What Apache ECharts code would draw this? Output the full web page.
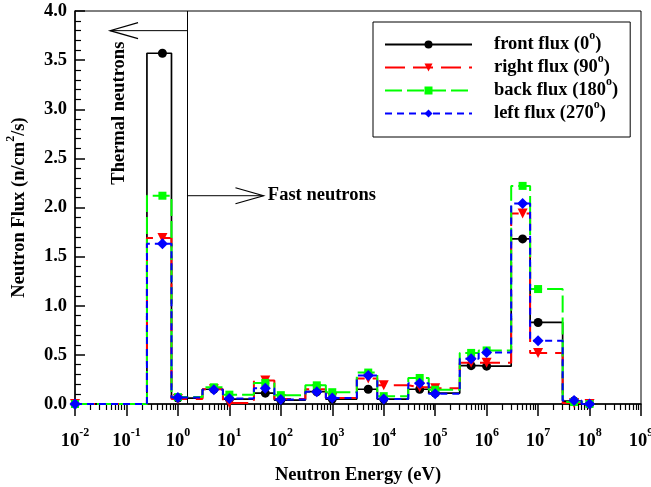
<!DOCTYPE html>
<html>
<head>
<meta charset="utf-8">
<script src="https://cdn.jsdelivr.net/npm/echarts@6/dist/echarts.min.js"></script>
<style>
html,body{margin:0;padding:0;background:#fff;}
#chart{width:651px;height:487px;}
</style>
</head>
<body>
<div id="chart"></div>
<script>
"use strict";

// group boundaries (eV) and the energy where each marker sits
var binEdges=[0.01,0.25,0.75,3,7.5,30,75,300,750,3e3,7.5e3,3e4,7.5e4,3e5,7e5,3e6,7e6,3e7,7e7,1.1e8];
var markerEnergy=[0.01,0.5,1,5,10,50,100,500,1e3,5e3,1e4,5e4,1e5,5e5,1e6,5e6,1e7,5e7,1e8];

var frontFlux=[0,3.57,0.06,0.15,0.05,0.11,0.04,0.125,0.05,0.15,0.05,0.15,0.11,0.39,0.385,1.68,0.83,0.03,0];
var rightFlux=[0,1.69,0.05,0.15,0.01,0.24,0.05,0.15,0.06,0.26,0.19,0.17,0.16,0.42,0.42,1.94,0.52,0.01,0];
var backFlux=[0,2.12,0.07,0.17,0.095,0.215,0.09,0.19,0.12,0.32,0.08,0.265,0.145,0.52,0.545,2.22,1.17,0.02,0];
var leftFlux=[0,1.63,0.065,0.145,0.055,0.16,0.045,0.125,0.06,0.29,0.05,0.21,0.105,0.46,0.525,2.04,0.645,0.035,0];

var seriesLabels=['front flux (0','right flux (90','back flux (180','left flux (270'];
var seriesColors=['#000000','#ff0000','#00ff00','#0000ff'];

var xMin=0.01, xMax=1e9;

// annotation anchors (data coords)
var dividerE=1.5;
var thermalArrow={y:3.8,tip:0.048};
var fastArrow={y:2.12,tip:46};

var FONT='"Liberation Serif","Times New Roman",serif';
var FS=18.5;

var majorTicks=[];
var minorTicks=[];
for(var n=-2;n<=9;n++){
  majorTicks.push(Math.pow(10,n));
  if(n<9) for(var k=2;k<=9;k++) minorTicks.push(k*Math.pow(10,n));
}

function steps(values){
  var pts=[];
  for(var i=0;i<values.length;i++){
    pts.push({value:[binEdges[i],values[i]],symbol:'none'});
    pts.push([markerEnergy[i],values[i]]);
    pts.push({value:[binEdges[i+1],values[i]],symbol:'none'});
  }
  return pts;
}

var txt={fontFamily:FONT,fontWeight:'bold',fontSize:FS,color:'#000'};
var supRich={
  t:{fontFamily:FONT,fontWeight:'bold',fontSize:FS,color:'#000',lineHeight:23},
  s:{fontFamily:FONT,fontWeight:'bold',fontSize:12,color:'#000',verticalAlign:'top',lineHeight:6,height:6},
  g:{width:17}
};

function mkSeries(idx,values,symbol,size,dash,width){
  return {
    name:seriesLabels[idx],
    type:'line',
    data:steps(values),
    symbol:symbol,
    symbolSize:size,
    showSymbol:true,
    animation:false,
    color:seriesColors[idx],
    itemStyle:{color:seriesColors[idx]},
    lineStyle:{color:seriesColors[idx],width:width,type:dash},
    z:2+idx
  };
}

var series=[
  mkSeries(0,frontFlux,'circle',9,'solid',1.7),
  mkSeries(1,rightFlux,'path://M0,0 L10,0 L5,9 Z',10,[20,8],2),
  mkSeries(2,backFlux,'rect',8,[17,5],2),
  mkSeries(3,leftFlux,'diamond',11,[7,5],2)
];
series[0].markLine={
  silent:true,symbol:'none',label:{show:false},animation:false,
  lineStyle:{color:'#000',width:1,type:'solid'},
  data:[{xAxis:dividerE}]
};

var option={
  backgroundColor:'#fff',
  animation:false,
  grid:{left:75,right:10,top:11,bottom:83,show:true,borderColor:'#000',borderWidth:1,
    containLabel:false,outerBoundsMode:'none'},
  legend:{
    orient:'vertical',left:373,top:22,
    padding:[8,12,14,11],
    itemWidth:87,itemHeight:10,itemGap:-1,
    borderColor:'#000',borderWidth:1,
    data:seriesLabels,
    textStyle:{color:'#000',rich:supRich},
    formatter:function(name){return '{g|}{t|'+name+'}{s|o}{t|)}';}
  },
  xAxis:[{
    type:'log',logBase:10,min:xMin,max:xMax,
    axisLine:{lineStyle:{color:'#000',width:1.5}},
    axisTick:{customValues:majorTicks,length:12,lineStyle:{color:'#000',width:1.5}},
    minorTick:{show:false},
    splitLine:{show:false},
    axisLabel:{
      customValues:majorTicks,margin:26,
      formatter:function(v){return '{t|10}{s|'+Math.round(Math.log10(v))+'}';},
      rich:supRich
    },
    name:'Neutron Energy (eV)',nameLocation:'middle',nameGap:62,
    nameTextStyle:txt
  },{
    type:'log',logBase:10,min:xMin,max:xMax,position:'bottom',
    axisLine:{show:false},
    axisTick:{customValues:minorTicks,length:6,lineStyle:{color:'#000',width:1.2}},
    axisLabel:{show:false},
    minorTick:{show:false},
    splitLine:{show:false}
  }],
  yAxis:{
    type:'value',min:0,max:4,interval:0.5,
    axisLine:{show:true,lineStyle:{color:'#000',width:1.5}},
    axisTick:{show:true,inside:true,length:10,lineStyle:{color:'#000',width:1.5}},
    minorTick:{show:true,splitNumber:5,length:6,lineStyle:{color:'#000',width:1.2}},
    splitLine:{show:false},
    axisLabel:{margin:8,fontFamily:FONT,fontWeight:'bold',fontSize:FS,color:'#000',
      formatter:function(v){return v.toFixed(1);}},
    name:'{t|Neutron Flux (n/cm}{s|2}{t|/s)}',nameLocation:'middle',nameGap:44,nameRotate:90,
    nameTextStyle:{rich:supRich}
  },
  series:series
};

var chart=echarts.init(document.getElementById('chart'));
chart.setOption(option);

function px(x,y){return chart.convertToPixel({gridIndex:0},[x,y]);}

function arrow(fromX,toX,y,dir){
  var a=px(fromX,y), b=px(toX,y);
  return [
    {type:'line',shape:{x1:a[0],y1:a[1],x2:b[0],y2:b[1]},style:{stroke:'#000',lineWidth:1}},
    {type:'polyline',shape:{points:[[b[0]-dir*28,b[1]-8],[b[0],b[1]],[b[0]-dir*28,b[1]+8]]},
     style:{stroke:'#000',fill:null,lineWidth:1.2}}
  ];
}

var tLab=px(0.072,2.96), fLab=px(56,fastArrow.y);
var graphics=[].concat(
  arrow(dividerE,thermalArrow.tip,thermalArrow.y,-1),
  arrow(dividerE,fastArrow.tip,fastArrow.y,1),
  [
    {type:'text',x:tLab[0],y:tLab[1],rotation:Math.PI/2,
     style:{text:'Thermal neutrons',font:'bold '+FS+'px '+FONT,fill:'#000',align:'center',verticalAlign:'middle'}},
    {type:'text',x:fLab[0],y:fLab[1],
     style:{text:'Fast neutrons',font:'bold '+FS+'px '+FONT,fill:'#000',align:'left',verticalAlign:'middle'}}
  ]
);
chart.setOption({graphic:graphics});
</script>
</body>
</html>
